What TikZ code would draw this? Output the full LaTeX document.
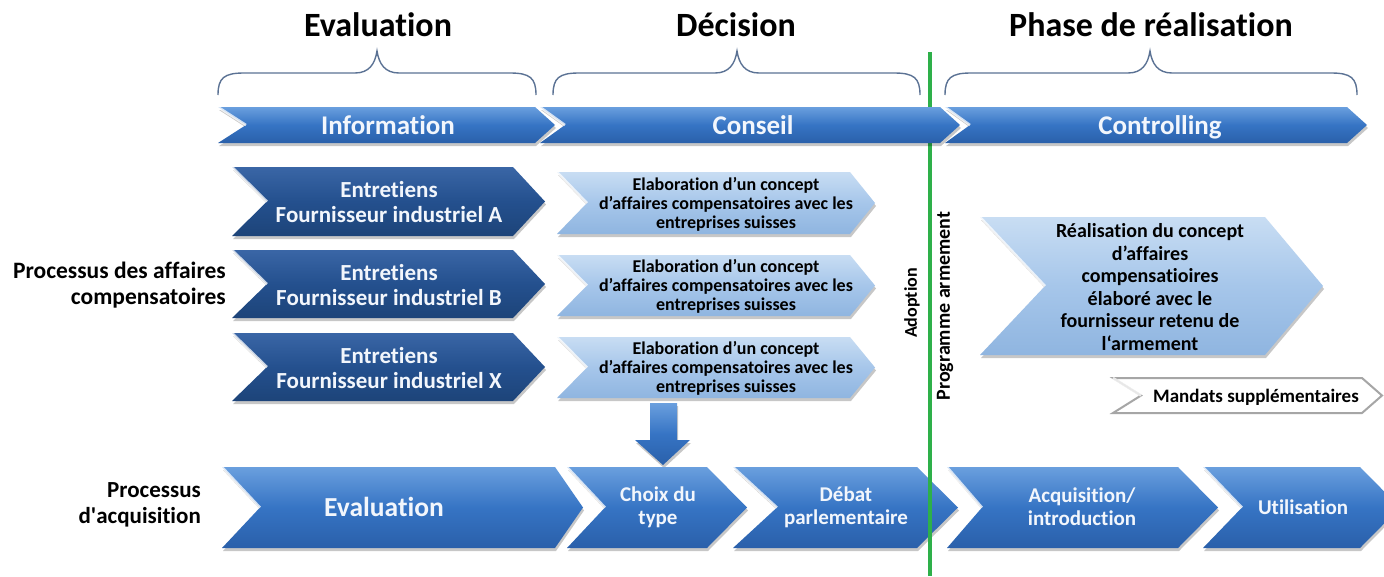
\documentclass[tikz,border=0pt]{standalone}
\usepackage{fontspec}
\setmainfont{Carlito}[Ligatures={NoCommon}]
\usetikzlibrary{shadows}
\definecolor{medA}{HTML}{6A9FDE}
\definecolor{medB}{HTML}{3674C4}
\definecolor{medC}{HTML}{2A60AA}
\definecolor{darkA}{HTML}{3A66A6}
\definecolor{darkB}{HTML}{24508E}
\definecolor{darkC}{HTML}{1D4479}
\definecolor{liteA}{HTML}{C8DDF3}
\definecolor{liteB}{HTML}{A6C6EA}
\definecolor{liteC}{HTML}{8FB5E0}
\definecolor{bracecol}{HTML}{5B7294}
\definecolor{greenline}{HTML}{2EB04A}
\definecolor{wtext}{HTML}{F2F6FC}
\newcommand\chev[7]{%
  \path[#1] (#2,#4) -- (#3,#4) -- ({#3+#7},{(#4+#5)/2}) -- (#3,#5) -- (#2,#5) -- ({#2+#6},{(#4+#5)/2}) -- cycle;
  \draw[bevel] (#2,#4) -- ({#2+#6},{(#4+#5)/2});
}
\newcommand\bracepath[3]{%
  \draw[bracecol, line width=1.4pt] (#1,95) .. controls (#1,78) and ({#1+6},73) .. ({#1+26},73) -- ({#2-22},73)
     .. controls ({#2-8},73) and ({#2-2},64) .. (#2,51)
     .. controls ({#2+2},64) and ({#2+8},73) .. ({#2+22},73) -- ({#3-26},73)
     .. controls ({#3-6},73) and (#3,78) .. (#3,95);
}
\tikzset{
  shad/.style={drop shadow={shadow xshift=1pt, shadow yshift=-3pt, opacity=.22, fill=black}},
  medchev/.style={shad, top color=medA, bottom color=medC, middle color=medB},
  darkchev/.style={shad, top color=darkA, bottom color=darkC, middle color=darkB},
  litechev/.style={shad, top color=liteA, bottom color=liteC, middle color=liteB},
  mandchev/.style={fill=white, draw=black!35, line width=2pt},
  bevel/.style={white, opacity=.75, line width=2.5pt},
  wlabel/.style={text=wtext, font=\bfseries, align=center, inner sep=0pt},
  blabel/.style={text=black, font=\bfseries, align=center, inner sep=0pt},
  titlelabel/.style={text=black, font=\bfseries\fontsize{34}{38}\selectfont, inner sep=0pt, anchor=base},
}
\begin{document}
\begin{tikzpicture}[x=1pt,y=-1pt]
\useasboundingbox (0,0) rectangle (1384,576);
\clip (0,0) rectangle (1384,576);
\fill[white] (0,0) rectangle (1384,576);

% titles
\node[titlelabel] (tEval) at (378,36) {Evaluation};
\node[titlelabel] (tDec) at (736,36) {Décision};
\node[titlelabel] (tReal) at (1151,36) {Phase de réalisation};

% braces
\bracepath{218}{377}{536}
\bracepath{553}{737}{920}
\bracepath{945}{1150}{1357}

% green line
\draw[greenline, line width=4pt] (930,52) -- (930,576);

% top band
\chev{medchev}{218}{535}{107}{143}{28}{20}
\chev{medchev}{540}{940}{107}{143}{25}{20}
\chev{medchev}{945}{1347}{107}{143}{25}{20}
\node[wlabel, anchor=base, font=\bfseries\fontsize{27}{30}\selectfont] (nInfo) at (388,134) {Information};
\node[wlabel, anchor=base, font=\bfseries\fontsize{27}{30}\selectfont] (nCons) at (753,134) {Conseil};
\node[wlabel, anchor=base, font=\bfseries\fontsize{27}{30}\selectfont] (nCtrl) at (1160,134) {Controlling};

% dark chevrons
\chev{darkchev}{232}{513}{167}{236}{35}{32}
\chev{darkchev}{232}{513}{250}{318}{35}{32}
\chev{darkchev}{232}{513}{333}{401}{35}{32}
\node[wlabel, font=\bfseries\fontsize{23}{25}\selectfont] (eA) at (389,202) {Entretiens\\Fournisseur industriel A};
\node[wlabel, font=\bfseries\fontsize{23}{25}\selectfont] (eB) at (389,285) {Entretiens\\Fournisseur industriel B};
\node[wlabel, font=\bfseries\fontsize{23}{25}\selectfont] (eX) at (389,368) {Entretiens\\Fournisseur industriel X};

% light chevrons
\chev{litechev}{557}{850}{172}{234}{30}{25}
\chev{litechev}{557}{850}{255}{316}{30}{25}
\chev{litechev}{557}{850}{337}{398}{30}{25}
\node[blabel, font=\bfseries\fontsize{18}{19}\selectfont] (cA) at (726,204) {Elaboration d’un concept\\d’affaires compensatoires avec les\\entreprises suisses};
\node[blabel, font=\bfseries\fontsize{18}{19}\selectfont] (cB) at (726,286) {Elaboration d’un concept\\d’affaires compensatoires avec les\\entreprises suisses};
\node[blabel, font=\bfseries\fontsize{18}{19}\selectfont] (cX) at (726,368) {Elaboration d’un concept\\d’affaires compensatoires avec les\\entreprises suisses};

% right big chevron
\chev{litechev}{980}{1265}{217}{355}{65}{58}
\node[blabel, font=\bfseries\fontsize{20}{22.6}\selectfont] (real) at (1150,287) {Réalisation du concept\\d’affaires\\compensatioires\\élaboré avec le\\fournisseur retenu de\\l‘armement};

% mandats
\chev{mandchev}{1113}{1362}{378}{413}{28}{20}
\node[blabel, anchor=base, font=\bfseries\fontsize{19}{22}\selectfont] (mand) at (1256,402) {Mandats supplémentaires};

% down arrow
\path[medchev] (650,403) -- (677,403) -- (677,440) -- (690,440) -- (663,465) -- (635,440) -- (650,440) -- cycle;

% bottom row
\chev{medchev}{222}{555}{467}{548}{38}{28}
\chev{medchev}{567}{707}{467}{548}{38}{40}
\chev{medchev}{733}{917}{467}{548}{44}{41}
\chev{medchev}{947}{1178}{467}{548}{35}{40}
\chev{medchev}{1203}{1360}{467}{548}{39}{40}
\node[wlabel, anchor=base, font=\bfseries\fontsize{27.5}{30}\selectfont] (bEval) at (384,516) {Evaluation};
\node[wlabel, font=\bfseries\fontsize{21}{23}\selectfont] (bChoix) at (658,507) {Choix du\\type};
\node[wlabel, font=\bfseries\fontsize{21}{23}\selectfont] (bDebat) at (846,507) {Débat\\parlementaire};
\node[wlabel, font=\bfseries\fontsize{21}{23}\selectfont] (bAcq) at (1082,507) {Acquisition/\\introduction};
\node[wlabel, anchor=base, font=\bfseries\fontsize{21}{23}\selectfont] (bUtil) at (1303,514) {Utilisation};

% green line over bottom row
\draw[greenline, line width=4pt] (930,460) -- (930,576);

% left labels
\node[blabel, align=right, anchor=east, font=\bfseries\fontsize{23.5}{26}\selectfont] (lAff) at (226,285) {Processus des affaires\\compensatoires};
\node[blabel, align=right, anchor=east, font=\bfseries\fontsize{23}{26}\selectfont] (lAcq) at (201,505) {Processus\\d\textquotesingle acquisition};

% vertical labels
\node[blabel, rotate=90, font=\bfseries\fontsize{18}{22}\selectfont] (adopt) at (912,303) {Adoption};
\node[blabel, rotate=90, font=\bfseries\fontsize{20}{22}\selectfont] (prog) at (945,306) {Programme armement};
\end{tikzpicture}
\end{document}
